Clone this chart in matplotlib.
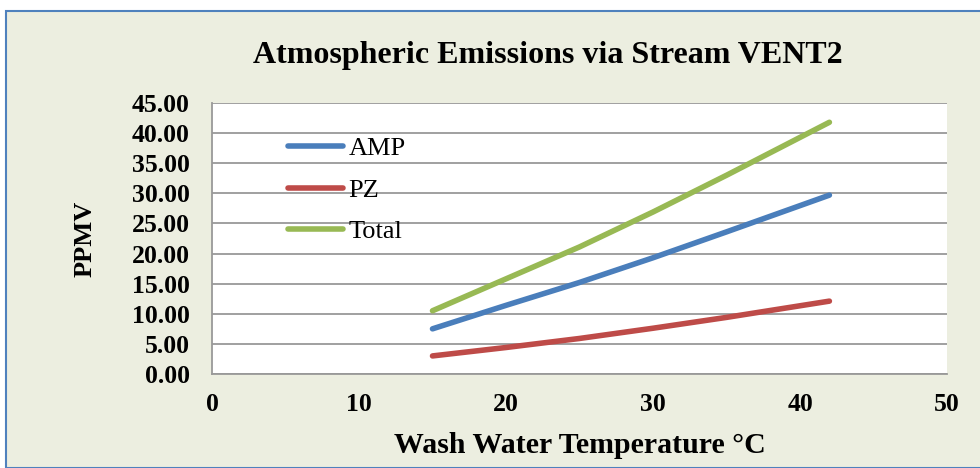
import matplotlib
matplotlib.use("Agg")
import matplotlib.pyplot as plt
from matplotlib.patches import Rectangle

# Wash water temperature (°C) and emissions (PPMV)
temperature = [15, 20, 25, 30, 35, 42]
amp = [7.5, 11.4, 15.2, 19.3, 23.6, 29.7]
pz = [3.0, 4.4, 5.9, 7.6, 9.4, 12.1]
total = [10.5, 15.8, 21.1, 26.9, 33.0, 41.8]

series_names = ["AMP", "PZ", "Total"]
series_colors = ["#4A7EBB", "#BE4B48", "#98B954"]

y_ticks = [0, 5, 10, 15, 20, 25, 30, 35, 40, 45]
x_ticks = [0, 10, 20, 30, 40, 50]

plt.rcParams["font.family"] = ["Liberation Serif", "DejaVu Serif"]

W, H = 980, 468
fig = plt.figure(figsize=(W / 100, H / 100), dpi=100)
fig.patch.set_facecolor("white")

# Chart-area panel with blue border
panel = Rectangle((6 / W, 0), 1.0, 1 - 11 / H, transform=fig.transFigure,
                  facecolor="#ECEEE0", edgecolor="#4F81BD", linewidth=1.5,
                  zorder=-10)
fig.patches.append(panel)

ax = fig.add_axes([212 / W, 1 - 374 / H, (947 - 212) / W, (374 - 103) / H])
ax.set_zorder(5)
ax.set_facecolor("white")

for name, vals, col in zip(series_names, [amp, pz, total], series_colors):
    ax.plot(temperature, vals, color=col, linewidth=4, solid_capstyle="round",
            label=name, zorder=3)

ax.set_xlim(0, 50)
ax.set_ylim(0, 45)
ax.set_xticks(x_ticks)
ax.set_yticks(y_ticks)
ax.set_yticklabels([f"{v:.2f}" for v in y_ticks])
ax.grid(axis="y", color="#999999", linewidth=1.3, zorder=1)
ax.set_axisbelow(True)

for side in ["top", "right"]:
    ax.spines[side].set_visible(False)
ax.spines["left"].set_color("#999999")
ax.spines["bottom"].set_color("#999999")
ax.spines["left"].set_linewidth(1.3)
ax.spines["bottom"].set_linewidth(1.3)

ax.tick_params(axis="both", length=0, labelsize=18.5)
ax.tick_params(axis="x", pad=14)
ax.tick_params(axis="y", pad=16)
for lbl in ax.get_xticklabels() + ax.get_yticklabels():
    lbl.set_fontweight("bold")

ax.set_xlabel("Wash Water Temperature °C", fontsize=21.5, fontweight="bold",
              labelpad=11)
ax.set_ylabel("PPMV", fontsize=19, fontweight="bold", labelpad=25)

fig.text(548 / W, 1 - 56 / H, "Atmospheric Emissions via Stream VENT2",
         ha="center", va="center", fontsize=23, fontweight="bold")

leg = ax.legend(loc="upper left", bbox_to_anchor=(0.103, 0.875), frameon=False,
                fontsize=19, handlelength=2.1, handletextpad=0.2,
                labelspacing=0.68, borderaxespad=0, borderpad=0)

fig.savefig("out.png", dpi=100, facecolor=fig.get_facecolor())
